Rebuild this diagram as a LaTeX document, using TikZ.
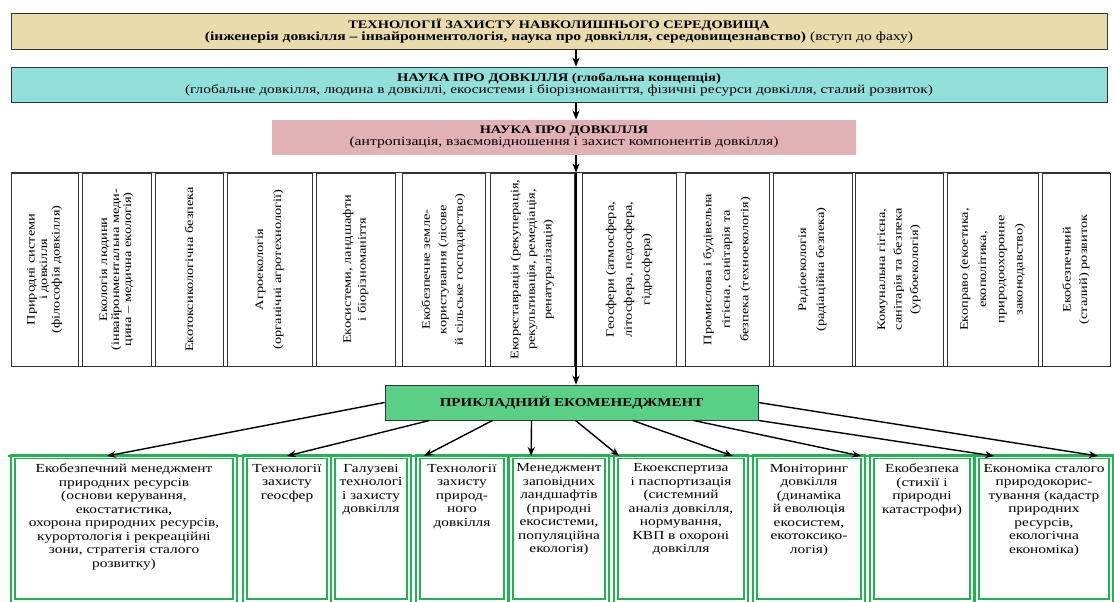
\documentclass[tikz,border=0pt]{standalone}
\usepackage{fontspec}
\setmainfont{Liberation Serif}[FakeStretch=1.25]
\usepackage{graphicx}
\usetikzlibrary{arrows.meta}
\definecolor{tan fill}{RGB}{233,219,172}
\definecolor{cyan fill}{RGB}{145,224,219}
\definecolor{pink fill}{RGB}{225,177,181}
\definecolor{green fill}{RGB}{90,208,135}
\definecolor{eco green}{RGB}{30,180,80}
\tikzset{topbox/.style={draw=black!80, line width=0.9pt, align=center, inner sep=0pt}}
\tikzset{vbox/.style={draw=black!80, line width=0.8pt, minimum height=193pt, inner sep=0pt}}
\tikzset{cell/.style={draw=eco green, line width=1.8pt, double=white, double distance=1.5pt, anchor=north, inner sep=4pt}}
\tikzset{arr/.style={-{Stealth[length=9pt, width=7pt]}, line width=1.4pt}}
\newcommand{\vtext}[2][16.5]{\rotatebox{90}{\parbox{191pt}{\centering\fontsize{11.5}{#1}\selectfont #2}}}
\newcommand{\celltext}[2]{\parbox[c][136pt][t]{#1}{\vspace*{3pt}\centering\fontsize{12.3}{13.5}\selectfont #2}}

\begin{document}
\begin{tikzpicture}[x=1pt, y=-1pt]
                \useasboundingbox (0,0) rectangle (1114,602);
                \coordinate (spine) at (576,0);

                % three levels of the discipline
                \node[topbox, fill=tan fill, minimum width=1096pt, minimum height=36pt] (tech) at (559,31)
                    {\fontsize{11.5}{15}\selectfont\bfseries ТЕХНОЛОГІЇ ЗАХИСТУ НАВКОЛИШНЬОГО СЕРЕДОВИЩА\\
                     \fontsize{12.5}{15}\selectfont\bfseries (інженерія довкілля – інвайронментологія, наука про довкілля, середовищезнавство) \mdseries(вступ до фаху)};
                \node[topbox, fill=cyan fill, minimum width=1096pt, minimum height=35pt] (global) at (559,84.5)
                    {\fontsize{11.7}{15}\selectfont\bfseries НАУКА ПРО ДОВКІЛЛЯ (глобальна концепція)\\
                     \fontsize{12.3}{15}\selectfont (глобальне довкілля, людина в довкіллі, екосистеми і біорізноманіття, фізичні ресурси довкілля, сталий розвиток)};
                \node[topbox, draw=none, fill=pink fill, minimum width=584pt, minimum height=35pt] (science) at (564,137.5)
                    {\fontsize{11.5}{15}\selectfont\bfseries НАУКА ПРО ДОВКІЛЛЯ\\
                     \fontsize{12.5}{15}\selectfont (антропізація, взаємовідношення і захист компонентів довкілля)};

                % row of components
                \node[vbox, minimum width=67pt] (v1) at (44.5,269.5) {\vtext[12.5]{Природні системи\\ і довкілля\\ (філософія довкілля)}};
                \node[vbox, minimum width=69pt] (v2) at (116.5,269.5) {\vtext[12]{Екологія людини\\ (інвайронментальна меди-\\ цина – медична екологія)}};
                \node[vbox, minimum width=68pt] (v3) at (189,269.5) {\vtext{Екотоксикологічна безпека}};
                \node[vbox, minimum width=85pt] (v4) at (269.5,269.5) {\vtext[18]{Агроекологія\\ (органічні агротехнології)}};
                \node[vbox, minimum width=79pt] (v5) at (355.5,269.5) {\vtext[15]{Екосистеми, ландшафти\\ і біорізноманіття}};
                \node[vbox, minimum width=83pt] (v6) at (443.5,269.5) {\vtext{Екобезпечне земле-\\ користування (лісове\\ й сільське господарство)}};
                \node[vbox, minimum width=84pt] (v7) at (532,269.5) {\vtext{Екореставрація (рекуперація,\\ рекультивація, ремедіація,\\ ренатуралізація)}};
                \node[vbox, minimum width=94pt] (v8) at (629,269.5) {\vtext[18]{Геосфери (атмосфера,\\ літосфера, педосфера,\\ гідросфера)}};
                \node[vbox, minimum width=84pt] (v9) at (727,269.5) {\vtext[18.5]{Промислова і будівельна\\ гігієна, санітарія та\\ безпека (техноекологія)}};
                \node[vbox, minimum width=79pt] (v10) at (812.5,269.5) {\vtext[18]{Радіоекологія\\ (радіаційна безпека)}};
                \node[vbox, minimum width=88pt] (v11) at (899,269.5) {\vtext{Комунальна гігієна,\\ санітарія та безпека\\ (урбоекологія)}};
                \node[vbox, minimum width=91pt] (v12) at (992.5,269.5) {\vtext[18.3]{Екоправо (екоетика,\\ екополітика,\\ природоохоронне\\ законодавство)}};
                \node[vbox, minimum width=68pt] (v13) at (1076,269.5) {\vtext{Екобезпечний\\ (сталий) розвиток}};
                \draw[line width=1.3pt, black!80] (v1.north west) -- (v13.north east);
                \draw[line width=1.3pt, black!80] (v1.south west) -- (v13.south east);

                \node[topbox, fill=green fill, minimum width=373pt, minimum height=35pt] (applied) at (571.5,402.5)
                    {\fontsize{12}{15}\selectfont\bfseries ПРИКЛАДНИЙ ЕКОМЕНЕДЖМЕНТ};

                % applied subjects
                \node[cell] (b1) at (124,456) {\celltext{214pt}{Екобезпечний менеджмент\\ природних ресурсів\\ (основи керування,\\ екостатистика,\\ охорона природних ресурсів,\\ курортологія і рекреаційні\\ зони, стратегія сталого\\ розвитку)}};
                \node[cell] (b2) at (287,456) {\celltext{76pt}{Технології\\ захисту\\ геосфер}};
                \node[cell] (b3) at (371,456) {\celltext{68pt}{Галузеві\\ технологі\\ і захисту\\ довкілля}};
                \node[cell] (b4) at (462,456) {\celltext{80pt}{Технології\\ захисту\\ природ-\\ ного\\ довкілля}};
                \node[cell] (b5) at (559,456) {\celltext{88pt}{Менеджмент\\ заповідних\\ ландшафтів\\ (природні\\ екосистеми,\\ популяційна\\ екологія)}};
                \node[cell] (b6) at (681,456) {\celltext{122pt}{Екоекспертиза\\ і паспортизація\\ (системний\\ аналіз довкілля,\\ нормування,\\ КВП в охороні\\ довкілля}};
                \node[cell] (b7) at (809,456) {\celltext{100pt}{Моніторинг\\ довкілля\\ (динаміка\\ й еволюція\\ екосистем,\\ екотоксико-\\ логія)}};
                \node[cell] (b8) at (922,456) {\celltext{92pt}{Екобезпека\\ (стихії і\\ природні\\ катастрофи)}};
                \node[cell] (b9) at (1044,456) {\celltext{126pt}{Економіка сталого\\ природокорис-\\ тування (кадастр\\ природних\\ ресурсів,\\ екологічна\\ економіка)}};
                \draw[eco green, line width=2.4pt] ([xshift=-4pt]b1.north west) -- ([xshift=2pt]b9.north east);

                % arrows down the hierarchy
                \draw[arr] (tech.south -| spine) -- (global.north -| spine);
                \draw[arr] (global.south -| spine) -- (science.north -| spine);
                \draw[arr] (science.south -| spine) -- (v7.north -| spine);
                \draw[arr] (v7.north -| spine) -- (applied.north -| spine);

                \draw[arr] (applied.west) -- ([xshift=-17pt]b1.north);
                \draw[arr] ([xshift=45pt]applied.south west) -- (b2.north);
                \draw[arr] ([xshift=108pt]applied.south west) -- ([xshift=7pt]b4.north west);
                \draw[arr] ([xshift=147pt]applied.south west) -- ([xshift=21pt]b5.north west);
                \draw[arr] ([xshift=4pt]applied.south) -- ([xshift=4pt]b6.north west);
                \draw[arr] ([xshift=248pt]applied.south west) -- ([xshift=-14pt]b6.north east);
                \draw[arr] ([xshift=-65pt]applied.south east) -- ([xshift=-3pt]b7.north east);
                \draw[arr] (applied.south east) -- ([xshift=18pt]b9.north west);
                \draw[arr] (applied.east) -- ([xshift=-14pt]b9.north east);
\end{tikzpicture}
\end{document}
